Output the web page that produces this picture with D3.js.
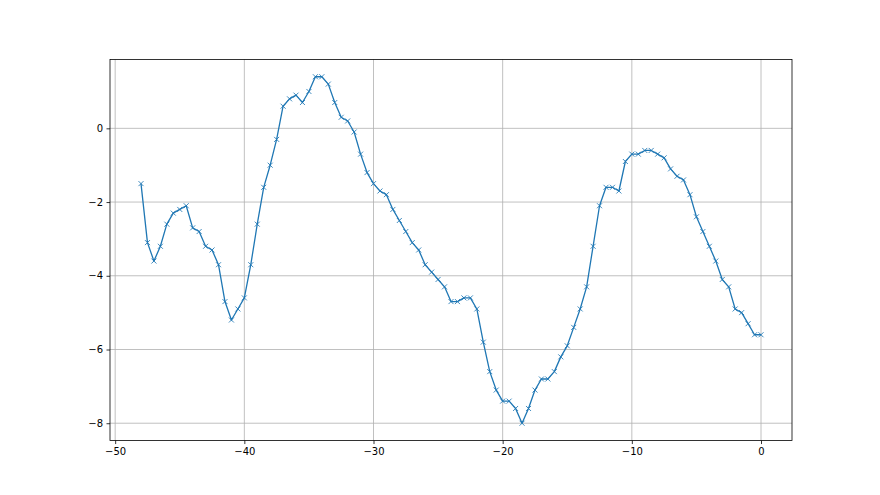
<!DOCTYPE html>
<html>
<head>
<meta charset="utf-8">
<script src="https://cdn.jsdelivr.net/npm/d3@7"></script>
<style>
    body { margin: 0; background: #fff; }
    svg { display: block; }
    .tick text { font-family: "DejaVu Sans", sans-serif; font-size: 10px; fill: #000; }
    .grid line { stroke: #b0b0b0; stroke-width: 0.8; }
</style>
</head>
<body>
<svg width="880" height="495"></svg>
<script>
'use strict';

// x positions run from -48 to 0 in half steps
var xValues = d3.range(-48, 0.001, 0.5);

var yValues = [
    -1.5, -3.1, -3.6, -3.2, -2.6, -2.3, -2.2, -2.1, -2.7, -2.8,
    -3.2, -3.3, -3.7, -4.7, -5.2, -4.9, -4.6, -3.7, -2.6, -1.6,
    -1.0, -0.3, 0.6, 0.8, 0.9, 0.7, 1.0, 1.4, 1.4, 1.2,
    0.7, 0.3, 0.2, -0.1, -0.7, -1.2, -1.5, -1.7, -1.8, -2.2,
    -2.5, -2.8, -3.1, -3.3, -3.7, -3.9, -4.1, -4.3, -4.7, -4.7,
    -4.6, -4.6, -4.9, -5.8, -6.6, -7.1, -7.4, -7.4, -7.6, -8.0,
    -7.6, -7.1, -6.8, -6.8, -6.6, -6.2, -5.9, -5.4, -4.9, -4.3,
    -3.2, -2.1, -1.6, -1.6, -1.7, -0.9, -0.7, -0.7, -0.6, -0.6,
    -0.7, -0.8, -1.1, -1.3, -1.4, -1.8, -2.4, -2.8, -3.2, -3.6,
    -4.1, -4.3, -4.9, -5.0, -5.3, -5.6, -5.6
];

var xTicks = [-50, -40, -30, -20, -10, 0];
var yTicks = [-8, -6, -4, -2, 0];

var svg = d3.select('svg');
var W = +svg.attr('width');
var H = +svg.attr('height');

// same box as matplotlib's default subplot
var margin = { top: 0.12 * H, right: 0.1 * W, bottom: 0.11 * H, left: 0.125 * W };
var width = W - margin.left - margin.right;
var height = H - margin.top - margin.bottom;

var points = xValues.map(function(x, i) {
    return { x: x, y: yValues[i] };
});

var pad = function(ext) {
    var m = (ext[1] - ext[0]) * 0.05;
    return [ext[0] - m, ext[1] + m];
};

var x = d3.scaleLinear()
    .domain(pad(d3.extent(xValues)))
    .range([0, width]);

var y = d3.scaleLinear()
    .domain(pad(d3.extent(yValues)))
    .range([height, 0]);

var fmt = function(d) { return d < 0 ? '\u2212' + Math.abs(d) : '' + d; };

var g = svg.append('g')
    .attr('transform', 'translate(' + margin.left + ',' + margin.top + ')');

// grid
g.append('g')
    .attr('class', 'grid')
    .selectAll('line.gx')
    .data(xTicks)
    .enter().append('line')
    .attr('x1', function(d) { return x(d); })
    .attr('x2', function(d) { return x(d); })
    .attr('y1', 0)
    .attr('y2', height);

g.append('g')
    .attr('class', 'grid')
    .selectAll('line.gy')
    .data(yTicks)
    .enter().append('line')
    .attr('x1', 0)
    .attr('x2', width)
    .attr('y1', function(d) { return y(d); })
    .attr('y2', function(d) { return y(d); });

// line
var line = d3.line()
    .x(function(d) { return x(d.x); })
    .y(function(d) { return y(d.y); });

g.append('path')
    .datum(points)
    .attr('fill', 'none')
    .attr('stroke', '#1f77b4')
    .attr('stroke-width', 1.3)
    .attr('stroke-linejoin', 'round')
    .attr('d', line);

// x markers
var s = 2.5;
g.append('g')
    .selectAll('path')
    .data(points)
    .enter().append('path')
    .attr('d', function(d) {
        var cx = x(d.x), cy = y(d.y);
        return 'M' + (cx - s) + ',' + (cy - s) + 'L' + (cx + s) + ',' + (cy + s) +
            'M' + (cx - s) + ',' + (cy + s) + 'L' + (cx + s) + ',' + (cy - s);
    })
    .attr('stroke', '#1f77b4')
    .attr('stroke-opacity', 0.85)
    .attr('stroke-width', 1)
    .attr('fill', 'none');

// axes
var xAxis = d3.axisBottom(x).tickValues(xTicks).tickFormat(fmt).tickSizeInner(3.5).tickSizeOuter(0).tickPadding(3.5);
var yAxis = d3.axisLeft(y).tickValues(yTicks).tickFormat(fmt).tickSizeInner(3.5).tickSizeOuter(0).tickPadding(3.5);

var gx = g.append('g')
    .attr('transform', 'translate(0,' + height + ')')
    .call(xAxis);
var gy = g.append('g').call(yAxis);

[gx, gy].forEach(function(a) {
    a.select('.domain').remove();
    a.selectAll('.tick line').attr('stroke', '#000').attr('stroke-width', 0.8);
});

// frame
g.append('rect')
    .attr('x', 0)
    .attr('y', 0)
    .attr('width', width)
    .attr('height', height)
    .attr('fill', 'none')
    .attr('stroke', '#000')
    .attr('stroke-width', 0.8);
</script>
</body>
</html>
